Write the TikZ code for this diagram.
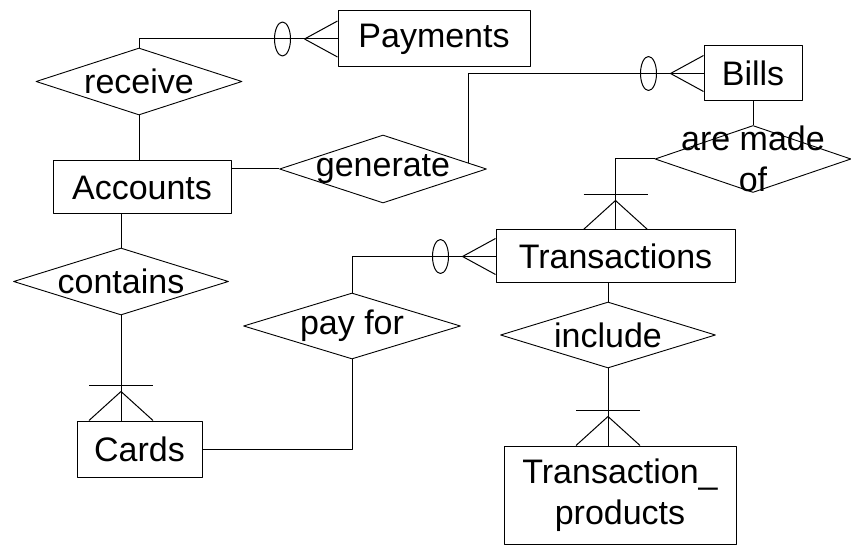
\documentclass[tikz,border=0pt]{standalone}
\usepackage{fontspec}
\setmainfont{Liberation Sans}
\usetikzlibrary{shapes.geometric}
\begin{document}
\begin{tikzpicture}[x=1pt, y=-1pt, line width=1pt, line join=round,
	font=\fontsize{34}{41}\selectfont,
	entity/.style={draw, rectangle, inner sep=0pt, align=center},
	rel/.style={draw, diamond, inner sep=0pt, line width=.9pt},
	zeromany/.pic={\draw (-33,0) -- (0,-18) (-33,0) -- (0,18);
		\draw (-55,0) ellipse (8pt and 17pt);},
	onemany/.pic={\draw (-32,-35) -- (32,-35);
		\draw (-32,0) -- (0,-29) -- (32,0);}]
	\fill[white] (0,0) rectangle (851,545);
	\useasboundingbox (0,0) rectangle (851,545);
	% entities
	\node[entity, minimum width=192pt, minimum height=56pt] (payments) at (434,39) {Payments};
	\node[entity, minimum width=98pt, minimum height=55pt] (bills) at (753,73.5) {Bills};
	\node[entity, minimum width=178pt, minimum height=53pt] (accounts) at (142,187.5) {Accounts};
	\node[entity, minimum width=239pt, minimum height=53pt] (trans) at (615.5,256.5) {Transactions};
	\node[entity, minimum width=125pt, minimum height=56pt] (cards) at (139.5,449) {Cards};
	\node[entity, minimum width=232pt, minimum height=98pt] (tprod) at (620,495) {Transaction\_\\products};
	% relationships
	\node[rel, minimum width=206pt, minimum height=67pt, label=center:receive] (receive) at (139,81.5) {};
	\node[rel, minimum width=207pt, minimum height=68pt, label=center:generate] (generate) at (383,169) {};
	\node[rel, minimum width=196pt, minimum height=67pt, label={[align=center]center:are made\\of}] (madeof) at (753,159) {};
	\node[rel, minimum width=215pt, minimum height=67pt, label=center:contains] (contains) at (121,281.5) {};
	\node[rel, minimum width=217pt, minimum height=66pt, label=center:pay for] (payfor) at (352,326) {};
	\node[rel, minimum width=215pt, minimum height=66pt, label=center:include] (include) at (608,335) {};
	% connectors
	\draw (receive.north) |- (payments.west);
	\pic at (payments.west) {zeromany};
	\draw (receive.south) -- (receive.south |- accounts.north);
	\draw (generate.west) -- (generate.west -| accounts.east);
	\draw (generate.4) |- (bills.west);
	\pic at (bills.west) {zeromany};
	\draw (bills.south) -- (madeof.north);
	\draw (madeof.west) -| (trans.north);
	\pic at (trans.north) {onemany};
	\draw (payfor.north) |- (trans.west);
	\pic at (trans.west) {zeromany};
	\draw (cards.east) -| (payfor.south);
	\draw (contains.north) -- (contains.north |- accounts.south);
	\coordinate (cardsin) at (contains.south |- cards.north);
	\draw (contains.south) -- (cardsin);
	\pic at (cardsin) {onemany};
	\draw (include.north) -- (include.north |- trans.south);
	\coordinate (tprodin) at (include.south |- tprod.north);
	\draw (include.south) -- (tprodin);
	\pic at (tprodin) {onemany};
\end{tikzpicture}
\end{document}
